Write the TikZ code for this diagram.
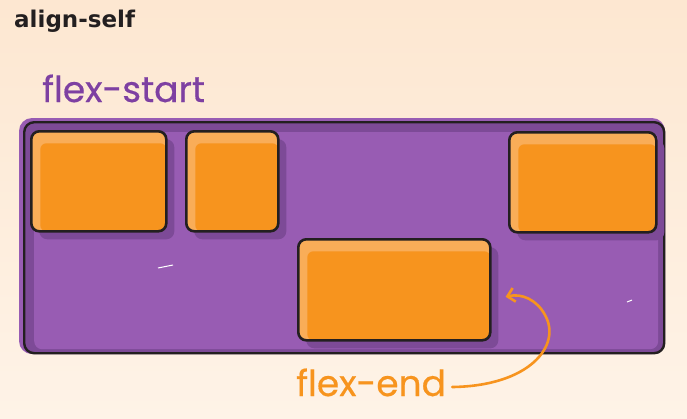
\documentclass[tikz,border=0pt]{standalone}
\usepackage{fontspec}
\setmainfont{Poppins}
\newfontfamily\titlefont{DejaVu Sans}
\newfontfamily\handfont[FakeBold=0.5]{Poppins}
\usetikzlibrary{arrows.meta}
\definecolor{bgtop}{HTML}{FDE7D1}
\definecolor{bgbot}{HTML}{FEF3E7}
\definecolor{lilac}{HTML}{985CB3}
\definecolor{plum}{HTML}{7D4A97}
\definecolor{grape}{HTML}{7E40A2}
\definecolor{amber}{HTML}{F7941E}
\definecolor{glow}{HTML}{F9AD58}
\definecolor{ink}{HTML}{231F20}
\begin{document}
\begin{tikzpicture}[x=1pt,y=-1pt,
    frame/.style={draw=ink, line width=2.4pt, rounded corners=10pt, anchor=north west, inner sep=0pt,
      path picture={\fill[plum] (path picture bounding box.north west) rectangle (path picture bounding box.south east);
        \fill[lilac, rounded corners=8pt] ([shift={(10pt,-10pt)}]path picture bounding box.north west)
          rectangle ([shift={(-6pt,4pt)}]path picture bounding box.south east);}},
    box/.style={draw=ink, line width=2.6pt, rounded corners=8pt, anchor=north west, inner sep=0pt,
      preaction={fill=plum, transform canvas={shift={(8pt,-8pt)}}},
      path picture={\fill[glow] (path picture bounding box.north west) rectangle (path picture bounding box.south east);
        \fill[amber, rounded corners=6pt] ([shift={(9pt,-12pt)}]path picture bounding box.north west)
          rectangle (path picture bounding box.south east);}},
    label/.style={anchor=base west, inner sep=0pt},
    arr/.style={amber, line width=2.6pt, line cap=round, -{Straight Barb[length=7pt,width=14pt,line width=2.6pt]}}]
  \useasboundingbox (0,0) rectangle (687,418);
  \fill[top color=bgtop, bottom color=bgbot] (0,0) rectangle (687,418);
  \node[label, text=ink, font=\titlefont\bfseries\fontsize{23}{23}\selectfont] (title) at (14,27) {align-self};
  \node[label, text=grape, font=\handfont\fontsize{36}{36}\selectfont] (start) at (42,102) {flex-start};
  \fill[lilac, rounded corners=13pt] (19,118) rectangle (665,354);
  \node[frame, minimum width=640pt, minimum height=231pt] (flex) at (23,121) {};
  \draw[white, line width=1pt] (158,268) -- (173,265);
  \draw[white, line width=1pt] (627,302) -- (632,300);
  \node[box, minimum width=135pt, minimum height=100pt] (a) at (30,130) {};
  \node[box, minimum width=92pt, minimum height=100pt] (b) at (185,130) {};
  \node[box, minimum width=147pt, minimum height=100pt] (c) at (508,131) {};
  \node[box, minimum width=192pt, minimum height=101pt] (d) at (297,238) {};
  \node[label, text=amber, font=\handfont\fontsize{36}{36}\selectfont] (end) at (296,396) {flex-end};
  \draw[arr] ([xshift=6pt,yshift=9pt]end.base east) .. controls (530,386) and (562,345) .. (545,315)
    .. controls (537,300) and (522,293) .. ([shift={(14,7)}]d.east);
\end{tikzpicture}
\end{document}
